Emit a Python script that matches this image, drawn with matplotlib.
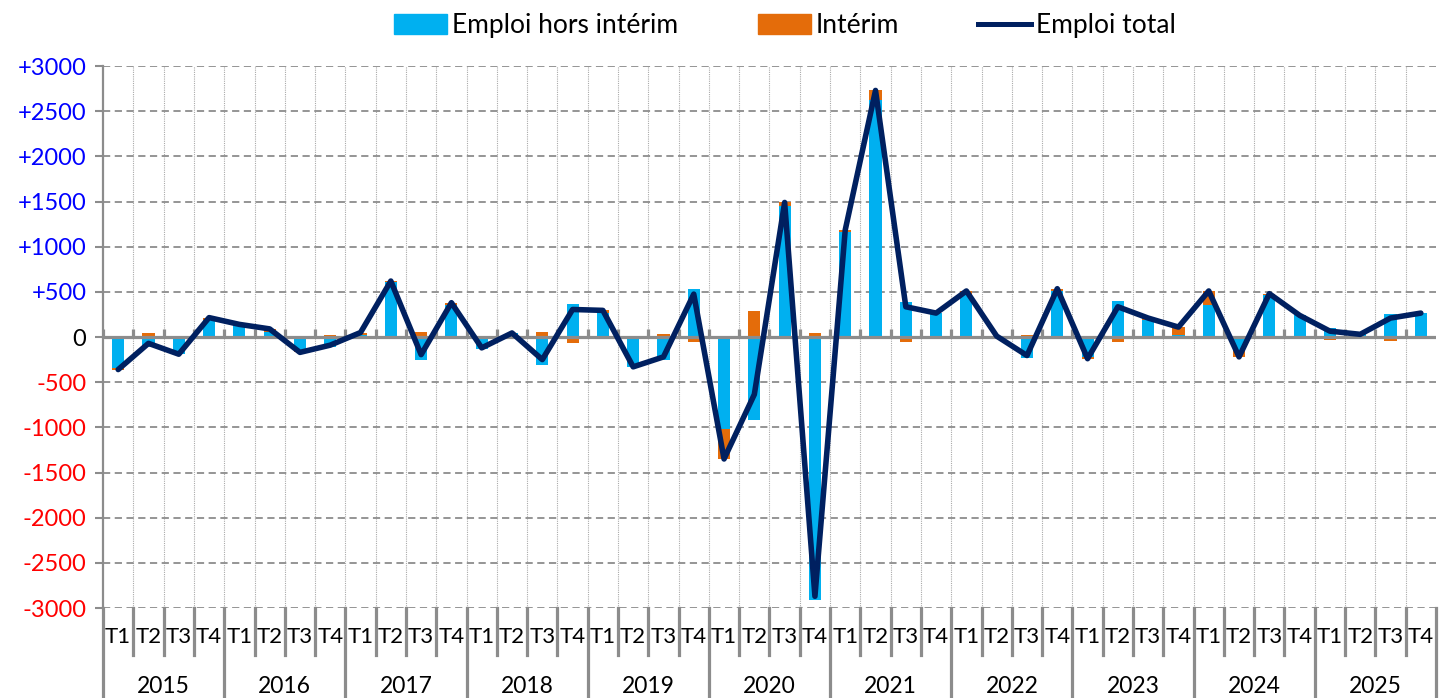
import numpy as np
import matplotlib.pyplot as plt
from matplotlib.patches import Patch
from matplotlib.lines import Line2D

plt.rcParams['font.family'] = ['Lato', 'DejaVu Sans']

# data
years = ['2015', '2016', '2017', '2018', '2019', '2020',
         '2021', '2022', '2023', '2024', '2025']
quarters = ['T1', 'T2', 'T3', 'T4']

hors_interim = [-340, -110, -190, 190,
                140, 60, -150, -110,
                20, 610, -250, 350,
                -130, 40, -310, 370,
                270, -330, -250, 530,
                -1020, -920, 1450, -2910,
                1165, 2620, 385, 270,
                480, 10, -230, 510,
                -220, 395, 190, 20,
                360, -150, 460, 240,
                100, 30, 255, 265]
interim = [-20, 40, 0, 25,
           0, 30, -20, 20,
           30, 10, 55, 30,
           10, 5, 60, -65,
           25, 0, 30, -55,
           -330, 290, 40, 40,
           20, 110, -50, -5,
           30, 0, 25, 25,
           -20, -60, 20, 90,
           150, -70, 20, 0,
           -35, 0, -45, 0]
emploi_total = [-360, -70, -190, 215,
                140, 90, -170, -90,
                50, 620, -195, 380,
                -120, 45, -250, 305,
                295, -330, -220, 475,
                -1350, -635, 1490, -2870,
                1185, 2730, 335, 265,
                510, 10, -205, 535,
                -240, 335, 210, 110,
                510, -220, 480, 240,
                65, 30, 210, 265]

yticks = [3000, 2500, 2000, 1500, 1000, 500, 0,
          -500, -1000, -1500, -2000, -2500, -3000]

c_blue = '#00B0F0'
c_orange = '#E46C0A'
c_line = '#002060'
c_grey = '#8C8C8C'

n = len(hors_interim)
x = np.arange(n)
hi = np.array(hors_interim)
it = np.array(interim)
# Excel-like stacking: positives stack above 0, negatives below
bottom_it = np.where(np.sign(it) == np.sign(hi), hi, 0)

fig = plt.figure(figsize=(14.41, 6.98), dpi=100)
ax = fig.add_axes([0.0715, 0.1289, 0.925, 0.7765])

ax.bar(x, hi, width=0.4, color=c_blue, zorder=3)
ax.bar(x, it, width=0.4, bottom=bottom_it, color=c_orange, zorder=3)
ax.plot(x, emploi_total, color=c_line, lw=4.0, zorder=5,
        solid_joinstyle='round', solid_capstyle='round')

ax.set_xlim(-0.5, n - 0.5)
ax.set_ylim(-3000, 3000)

# grids
bounds = np.arange(-0.5, n + 0.5, 1)
ax.set_yticks(yticks)
ax.yaxis.grid(True, ls=(0, (4, 2.5)), color=c_grey, lw=1.3, zorder=0)
for b in bounds[1:-1]:
    ax.axvline(b, ls=(0, (1, 1)), color='#AAAAAA', lw=0.8, zorder=0)

ax.axhline(0, color=c_grey, lw=2.3, zorder=4)
ax.vlines(bounds[:-1], 0, 85, color=c_grey, lw=2.3, zorder=4)

for s in ['top', 'right', 'bottom']:
    ax.spines[s].set_visible(False)
ax.spines['left'].set_color(c_grey)
ax.spines['left'].set_linewidth(1.6)

ax.set_xticks([])
labels = []
for v in yticks:
    labels.append('+%d' % v if v > 0 else '%d' % v)
ax.set_yticklabels(labels, fontsize=17)
for lab, v in zip(ax.get_yticklabels(), yticks):
    lab.set_color('#0000FF' if v > 0 else ('#FF0000' if v < 0 else 'black'))
ax.tick_params(axis='y', length=6, width=1.5, color=c_grey, pad=6)

# multi-level category axis
tr = ax.get_xaxis_transform()
for i in range(n):
    ax.text(i, -0.0535, quarters[i % 4], transform=tr, ha='center',
            va='center', fontsize=16)
for k, yr in enumerate(years):
    ax.text(4 * k + 1.5, -0.145, yr, transform=tr, ha='center',
            va='center', fontsize=16.5)
for j, b in enumerate(bounds):
    low = -0.17 if j % 4 == 0 else -0.087
    ax.plot([b, b], [0, low], transform=tr, color=c_grey, lw=2.3,
            clip_on=False)

handles = [Patch(color=c_blue), Patch(color=c_orange),
           Line2D([], [], color=c_line, lw=3.6)]
fig.legend(handles, ['Emploi hors intérim', 'Intérim', 'Emploi total'],
           loc='center', bbox_to_anchor=(0.545, 0.963), ncol=3,
           frameon=False, fontsize=19, handlelength=2.0,
           handleheight=0.8, handletextpad=0.2, columnspacing=3.0)

fig.savefig('out.png', dpi=100)
